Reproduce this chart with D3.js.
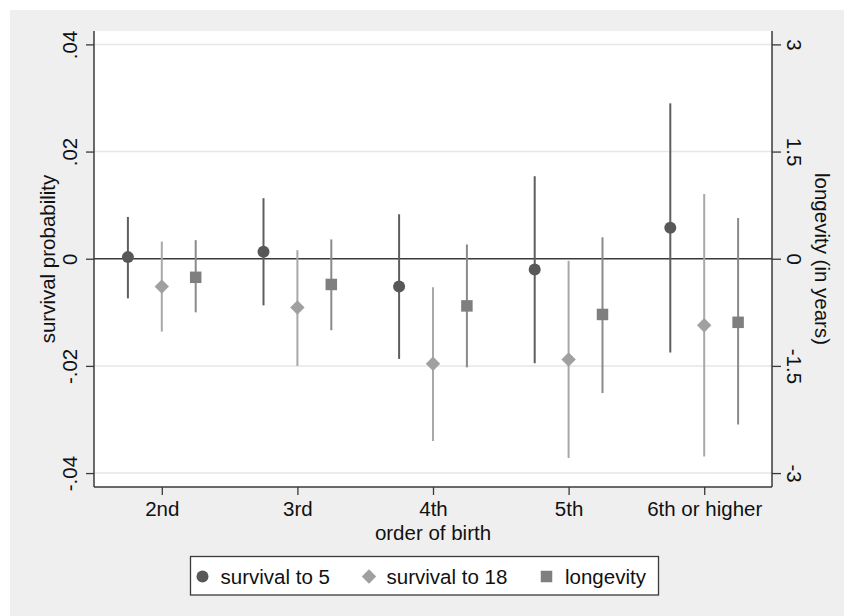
<!DOCTYPE html>
<html>
<head>
<meta charset="utf-8">
<script src="https://cdn.jsdelivr.net/npm/d3@7"></script>
<style>
  html, body { margin: 0; padding: 0; background: #fff; }
  svg { display: block; font-family: "Liberation Sans", Arial, Helvetica, sans-serif; }
</style>
</head>
<body>
<svg id="chart" width="844" height="616"></svg>
<script>
// ---- data ----
const categories = ["2nd", "3rd", "4th", "5th", "6th or higher"];
const categoryPos = [2, 3, 4, 5, 6];

const surv5Est = [0.0003, 0.0013, -0.0052, -0.0020, 0.0058];
const surv5Lo  = [-0.0074, -0.0087, -0.0187, -0.0195, -0.0175];
const surv5Hi  = [0.0078, 0.0113, 0.0083, 0.0154, 0.0290];

const surv18Est = [-0.0052, -0.0091, -0.0196, -0.0188, -0.0124];
const surv18Lo  = [-0.0136, -0.0200, -0.0340, -0.0372, -0.0369];
const surv18Hi  = [0.0032, 0.0016, -0.0053, -0.0004, 0.0121];

// longevity in years (right axis)
const longEst = [-0.26, -0.36, -0.66, -0.78, -0.89];
const longLo  = [-0.75, -1.00, -1.52, -1.88, -2.32];
const longHi  = [0.26, 0.27, 0.20, 0.30, 0.57];

const leftTicks = [-0.04, -0.02, 0, 0.02, 0.04];
const leftTickLabels = ["-.04", "-.02", "0", ".02", ".04"];
const rightTicks = [-3, -1.5, 0, 1.5, 3];
const rightTickLabels = ["-3", "-1.5", "0", "1.5", "3"];
const seriesNames = ["survival to 5", "survival to 18", "longevity"];

// ---- layout ----
const W = 844, H = 616;
const plot = { left: 94, right: 772, top: 31, bottom: 487 };
const svg = d3.select("#chart");

const x = d3.scaleLinear().domain([1.5, 6.5]).range([plot.left, plot.right]);
const y = d3.scaleLinear().domain([-0.0426, 0.0425]).range([plot.bottom, plot.top]);
const yR = d3.scaleLinear().domain([-0.0426 * 75, 0.0425 * 75]).range([plot.bottom, plot.top]);

const fontSize = 20.5;
const axisColor = "#3a3a3a";

// background
svg.append("rect").attr("x", 0).attr("y", 0).attr("width", W).attr("height", H).attr("fill", "#fff");
svg.append("rect").attr("x", 10).attr("y", 10).attr("width", W - 10).attr("height", H - 10).attr("fill", "#efefef");
svg.append("rect").attr("x", plot.left).attr("y", plot.top)
  .attr("width", plot.right - plot.left).attr("height", plot.bottom - plot.top).attr("fill", "#fff");

// gridlines
svg.append("g").selectAll("line").data(leftTicks.filter(d => d !== 0)).join("line")
  .attr("x1", plot.left).attr("x2", plot.right)
  .attr("y1", d => y(d)).attr("y2", d => y(d))
  .attr("stroke", "#e6e6e6").attr("stroke-width", 1.5);

// zero line
svg.append("line").attr("x1", plot.left).attr("x2", plot.right)
  .attr("y1", y(0)).attr("y2", y(0)).attr("stroke", "#3a3a3a").attr("stroke-width", 1.6);

// ---- axes ----
const leftAxis = d3.axisLeft(y).tickValues(leftTicks).tickSize(8).tickFormat((d, i) => leftTickLabels[i]);
const gL = svg.append("g").attr("transform", `translate(${plot.left},0)`).call(leftAxis);
gL.select(".domain").attr("d", `M0,${plot.top}V${plot.bottom}`);
gL.selectAll(".tick text").attr("transform", null).attr("x", null).attr("dy", null)
  .attr("text-anchor", "middle")
  .attr("transform", d => `translate(-17,0) rotate(-90)`)
  .attr("y", 0);

const rightAxis = d3.axisRight(yR).tickValues(rightTicks).tickSize(9).tickFormat((d, i) => rightTickLabels[i]);
const gR = svg.append("g").attr("transform", `translate(${plot.right},0)`).call(rightAxis);
gR.select(".domain").attr("d", `M0,${plot.top}V${plot.bottom}`);
gR.selectAll(".tick text").attr("x", null).attr("dy", null)
  .attr("text-anchor", "middle")
  .attr("transform", `translate(15,0) rotate(90)`)
  .attr("y", 0);

const bottomAxis = d3.axisBottom(x).tickValues(categoryPos).tickSize(8).tickFormat((d, i) => categories[i]);
const gB = svg.append("g").attr("transform", `translate(0,${plot.bottom})`).call(bottomAxis);
gB.select(".domain").attr("d", `M${plot.left},0H${plot.right}`);
gB.selectAll(".tick text").attr("dy", null).attr("y", 29);

[gL, gR, gB].forEach(g => {
  g.attr("font-size", fontSize).attr("font-family", null);
  g.select(".domain").attr("stroke", axisColor).attr("stroke-width", 1.5);
  g.selectAll(".tick line").attr("stroke", axisColor).attr("stroke-width", 1.3);
  g.selectAll(".tick text").attr("fill", "#111");
});

// axis titles
svg.append("text").attr("transform", `translate(55,${(plot.top + plot.bottom) / 2}) rotate(-90)`)
  .attr("text-anchor", "middle").attr("font-size", fontSize).attr("fill", "#111").text("survival probability");
svg.append("text").attr("transform", `translate(815,${(plot.top + plot.bottom) / 2}) rotate(90)`)
  .attr("text-anchor", "middle").attr("font-size", fontSize).attr("fill", "#111").text("longevity (in years)");
svg.append("text").attr("x", x(4)).attr("y", 540)
  .attr("text-anchor", "middle").attr("font-size", fontSize).attr("fill", "#111").text("order of birth");

// ---- series ----
const series = [
  { est: surv5Est, lo: surv5Lo, hi: surv5Hi, scale: y, off: -0.25, lineColor: "#5e5e5e", fill: "#585858", shape: "circle" },
  { est: surv18Est, lo: surv18Lo, hi: surv18Hi, scale: y, off: 0, lineColor: "#a8a8a8", fill: "#a0a0a0", shape: "diamond" },
  { est: longEst, lo: longLo, hi: longHi, scale: yR, off: 0.25, lineColor: "#8a8a8a", fill: "#7f7f7f", shape: "square" }
];

const symbolFor = {
  circle: d3.symbol().type(d3.symbolCircle).size(Math.PI * 6 * 6),
  diamond: d3.symbol().type(d3.symbolSquare).size(2 * 7.2 * 7.2),
  square: d3.symbol().type(d3.symbolSquare).size(11.5 * 11.5)
};

series.forEach(s => {
  const data = categoryPos.map((c, i) => ({ c, est: s.est[i], lo: s.lo[i], hi: s.hi[i] }));
  const g = svg.append("g");
  g.selectAll("line").data(data).join("line")
    .attr("x1", d => x(d.c + s.off)).attr("x2", d => x(d.c + s.off))
    .attr("y1", d => s.scale(d.lo)).attr("y2", d => s.scale(d.hi))
    .attr("stroke", s.lineColor).attr("stroke-width", 2);
  g.selectAll("path").data(data).join("path")
    .attr("d", symbolFor[s.shape])
    .attr("transform", d => `translate(${x(d.c + s.off)},${s.scale(d.est)})${s.shape === "diamond" ? " rotate(45)" : ""}`)
    .attr("fill", s.fill);
});

// ---- legend ----
const legend = svg.append("g");
legend.append("rect").attr("x", 190.5).attr("y", 556.5).attr("width", 468).attr("height", 38.5)
  .attr("fill", "#fff").attr("stroke", "#3a3a3a").attr("stroke-width", 1.3);
const legendMarkerX = [202.5, 369, 546.5];
const legendTextX = [220.5, 386.5, 565];
series.forEach((s, i) => {
  legend.append("path").attr("d", symbolFor[s.shape])
    .attr("transform", `translate(${legendMarkerX[i]},576.5)${s.shape === "diamond" ? " rotate(45)" : ""}`)
    .attr("fill", s.fill);
  legend.append("text").attr("x", legendTextX[i]).attr("y", 583.5)
    .attr("font-size", fontSize).attr("fill", "#111").text(seriesNames[i]);
});
</script>
</body>
</html>
